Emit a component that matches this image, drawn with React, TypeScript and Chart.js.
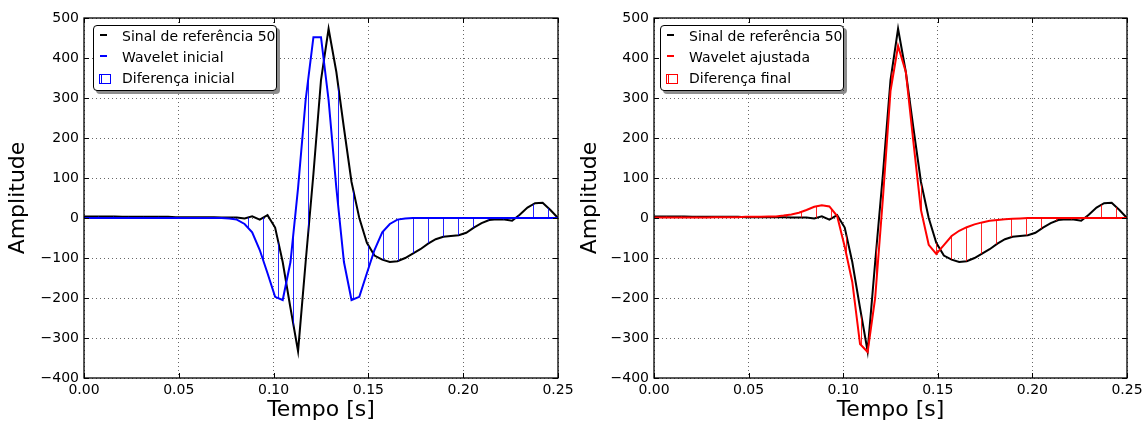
import React, { useEffect, useRef } from 'react';
import { Chart, registerables } from 'chart.js';

Chart.register(...registerables);

// ---- data ----
const TIME = [
  0.0000, 0.0040, 0.0081, 0.0121, 0.0161, 0.0202, 0.0242, 0.0282, 0.0323, 0.0363,
  0.0403, 0.0444, 0.0484, 0.0524, 0.0565, 0.0605, 0.0645, 0.0685, 0.0726, 0.0766,
  0.0806, 0.0847, 0.0887, 0.0927, 0.0968, 0.1008, 0.1048, 0.1089, 0.1129, 0.1169,
  0.1210, 0.1250, 0.1290, 0.1331, 0.1371, 0.1411, 0.1452, 0.1492, 0.1532, 0.1573,
  0.1613, 0.1653, 0.1694, 0.1734, 0.1774, 0.1815, 0.1855, 0.1895, 0.1935, 0.1976,
  0.2016, 0.2056, 0.2097, 0.2137, 0.2177, 0.2218, 0.2258, 0.2298, 0.2339, 0.2379,
  0.2419, 0.2460, 0.2500,
];

const REFERENCE = [
  4, 4, 4, 4, 4, 3, 3, 3, 3, 3,
  3, 3, 2, 2, 2, 2, 2, 2, 1, 1,
  1, -1, 4, -4, 7, -24, -110, -225, -333, -110,
  110, 345, 473, 365, 225, 90, 0, -62, -94, -104,
  -110, -108, -100, -89, -78, -64, -53, -47, -45, -43,
  -37, -24, -13, -5, -3, -4, -7, 8, 26, 37,
  38, 20, 0,
];

const WAVELET_INITIAL = [
  0, 0, 0, 0, 0, 0, 0, 0, 0, 0,
  0, 0, 0, 0, 0, 0, 0, 0, 0, -1,
  -4, -15, -36, -80, -138, -197, -205, -110, 75, 295,
  452, 452, 295, 75, -110, -205, -197, -138, -80, -36,
  -15, -4, -1, 0, 0, 0, 0, 0, 0, 0,
  0, 0, 0, 0, 0, 0, 0, 0, 0, 0,
  0, 0, 0,
];

const WAVELET_ADJUSTED = [
  1, 1, 1, 1, 1, 1, 1, 1, 2, 2,
  2, 2, 3, 3, 3, 4, 4, 6, 9, 13,
  20, 28, 32, 29, 5, -72, -160, -315, -335, -200,
  50, 317, 430, 365, 190, 20, -67, -90, -68, -45,
  -32, -23, -16, -11, -7, -5, -3, -2, -1, 0,
  0, 0, 0, 0, 0, 0, 0, 0, 0, 0,
  0, 0, 0,
];

const X_TICKS = [0, 0.05, 0.1, 0.15, 0.2, 0.25];
const Y_TICKS = [-400, -300, -200, -100, 0, 100, 200, 300, 400, 500];

const REF_LABEL = 'Sinal de referência 50';
const X_TITLE = 'Tempo [s]';
const Y_TITLE = 'Amplitude';

const FONT = '"DejaVu Sans", "Liberation Sans", sans-serif';

function makeHatch(color: string, offset: number) {
  const c = document.createElement('canvas');
  c.width = 15;
  c.height = 15;
  const g = c.getContext('2d')!;
  g.strokeStyle = color;
  g.lineWidth = 1;
  g.beginPath();
  g.moveTo(offset, 0);
  g.lineTo(offset, 15);
  g.stroke();
  return g.createPattern(c, 'repeat');
}

const framePlugin = {
  id: 'frame',
  afterDraw(chart: any) {
    const { ctx, chartArea: a, scales } = chart;
    ctx.save();
    ctx.setLineDash([]);
    ctx.strokeStyle = '#000';
    ctx.lineWidth = 1;
    const L = 5;
    const seg = (x1: number, y1: number, x2: number, y2: number) => {
      ctx.beginPath();
      ctx.moveTo(x1, y1);
      ctx.lineTo(x2, y2);
      ctx.stroke();
    };
    X_TICKS.forEach((v) => {
      const x = Math.round(scales.x.getPixelForValue(v)) + 0.5;
      seg(x, a.bottom, x, a.bottom - L);
      seg(x, a.top, x, a.top + L);
    });
    Y_TICKS.forEach((v) => {
      const y = Math.round(scales.y.getPixelForValue(v)) + 0.5;
      seg(a.left, y, a.left + L, y);
      seg(a.right, y, a.right - L, y);
    });
    ctx.lineWidth = 1.3;
    ctx.strokeRect(a.left, a.top, a.right - a.left, a.bottom - a.top);
    ctx.restore();
  },
};

type PanelProps = {
  left: number;
  yWidth: number;
  padRight: number;
  titlePad: number;
  legendLeft: number;
  color: string;
  hatchColor: string;
  hatchOffset: number;
  wavelet: number[];
  waveletLabel: string;
  diffLabel: string;
};

function Legend({ color, labels, left }: { color: string; labels: string[]; left: number }) {
  const rowTop = [0, 21, 42];
  return (
    <div
      style={{
        position: 'absolute',
        left,
        top: 25,
        width: 184,
        height: 66,
        boxSizing: 'border-box',
        border: '1px solid #000',
        borderRadius: 4,
        background: '#fff',
        boxShadow: '3px 3px 0 rgba(0,0,0,0.45)',
        fontFamily: FONT,
        fontSize: 14,
        color: '#000',
      }}
    >
      <div style={{ position: 'absolute', left: 6, top: rowTop[0] + 8, width: 7, height: 2, background: '#000' }} />
      <div style={{ position: 'absolute', left: 6, top: rowTop[1] + 8, width: 7, height: 2, background: color }} />
      <div
        style={{
          position: 'absolute',
          left: 5,
          top: rowTop[2] + 6,
          width: 12,
          height: 10,
          boxSizing: 'border-box',
          border: `1px solid ${color}`,
          background: `linear-gradient(to right, transparent 1px, ${color} 1px, ${color} 2px, transparent 2px)`,
        }}
      />
      {labels.map((t, i) => (
        <div
          key={i}
          style={{
            position: 'absolute',
            left: 28,
            top: rowTop[i],
            lineHeight: '21px',
            whiteSpace: 'nowrap',
          }}
        >
          {t}
        </div>
      ))}
    </div>
  );
}

function Panel(p: PanelProps) {
  const ref = useRef<HTMLCanvasElement>(null);
  useEffect(() => {
    const pattern = makeHatch(p.hatchColor, p.hatchOffset);
    const chart = new Chart(ref.current!, {
      type: 'line',
      data: {
        datasets: [
          {
            label: p.waveletLabel,
            data: TIME.map((t, i) => ({ x: t, y: p.wavelet[i] })),
            borderColor: p.color,
            borderWidth: 2,
            pointRadius: 0,
            tension: 0,
            fill: { target: 1 },
            backgroundColor: pattern as any,
          },
          {
            label: REF_LABEL,
            data: TIME.map((t, i) => ({ x: t, y: REFERENCE[i] })),
            borderColor: '#000',
            borderWidth: 2,
            pointRadius: 0,
            tension: 0,
            fill: false,
          },
        ],
      },
      options: {
        responsive: false,
        animation: false,
        devicePixelRatio: 1,
        layout: { padding: { left: 0, right: p.padRight, top: 18, bottom: 0 } },
        plugins: { legend: { display: false }, tooltip: { enabled: false } },
        scales: {
          x: {
            type: 'linear',
            min: 0,
            max: 0.25,
            afterBuildTicks: (s: any) => {
              s.ticks = X_TICKS.map((v) => ({ value: v }));
            },
            afterFit: (s: any) => {
              s.height = 47;
              s.paddingLeft = 0;
              s.paddingRight = 0;
            },
            ticks: {
              color: '#000',
              font: { family: FONT, size: 14 },
              padding: 4,
              maxRotation: 0,
              autoSkip: false,
              callback: (v: any) => Number(v).toFixed(2),
            },
            grid: { color: 'rgba(0,0,0,0.6)', lineWidth: 1, drawTicks: false },
            border: { display: false, dash: [1, 3] },
            title: {
              display: true,
              text: X_TITLE,
              color: '#000',
              font: { family: FONT, size: 22 },
              padding: { top: 0, bottom: 2 },
            },
          },
          y: {
            type: 'linear',
            min: -400,
            max: 500,
            afterBuildTicks: (s: any) => {
              s.ticks = Y_TICKS.map((v) => ({ value: v }));
            },
            afterFit: (s: any) => {
              s.width = p.yWidth;
              s.paddingTop = 0;
              s.paddingBottom = 0;
            },
            ticks: {
              color: '#000',
              font: { family: FONT, size: 14 },
              padding: 5,
              autoSkip: false,
              callback: (v: any) => (v < 0 ? '\u2212' + Math.abs(v) : String(v)),
            },
            grid: { color: 'rgba(0,0,0,0.6)', lineWidth: 1, drawTicks: false },
            border: { display: false, dash: [1, 3] },
            title: {
              display: true,
              text: Y_TITLE,
              color: '#000',
              font: { family: FONT, size: 22 },
              padding: { top: p.titlePad, bottom: 0 },
            },
          },
        },
      },
      plugins: [framePlugin],
    });
    return () => chart.destroy();
  }, []);
  return (
    <div style={{ position: 'absolute', left: p.left, top: 0, width: 574, height: 425 }}>
      <canvas ref={ref} width={574} height={425} style={{ display: 'block', width: 574, height: 425 }} />
      <Legend
        color={p.color}
        left={p.legendLeft}
        labels={[REF_LABEL, p.waveletLabel, p.diffLabel]}
      />
    </div>
  );
}

export default function App() {
  return (
    <div style={{ position: 'absolute', left: 0, top: 0, width: 1148, height: 425, background: '#fff' }}>
      <Panel
        left={0}
        yWidth={84}
        padRight={16}
        titlePad={5}
        legendLeft={93}
        color="#0000ff"
        hatchColor="rgba(0,0,255,0.85)"
        hatchOffset={8.5}
        wavelet={WAVELET_INITIAL}
        waveletLabel="Wavelet inicial"
        diffLabel="Diferença inicial"
      />
      <Panel
        left={574}
        yWidth={80}
        padRight={21}
        titlePad={3}
        legendLeft={86}
        color="#ff0000"
        hatchColor="rgba(255,0,0,0.85)"
        hatchOffset={2.5}
        wavelet={WAVELET_ADJUSTED}
        waveletLabel="Wavelet ajustada"
        diffLabel="Diferença final"
      />
    </div>
  );
}
